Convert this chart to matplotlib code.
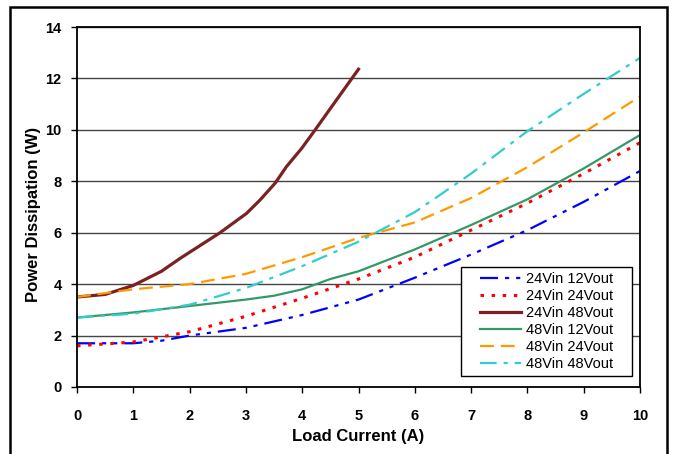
import matplotlib
matplotlib.use("Agg")
from matplotlib import pyplot as plt
from matplotlib.patches import Rectangle

plt.rcParams['font.family'] = ['Liberation Sans', 'DejaVu Sans']
plt.rcParams['lines.scale_dashes'] = False

# load current (A) for each curve and dissipation (W)
x_24_12 = [0, 1, 1.5, 2, 3, 4, 5, 6, 7, 8, 9, 10]
p_24_12 = [1.7, 1.7, 1.8, 2.0, 2.3, 2.8, 3.4, 4.25, 5.15, 6.1, 7.2, 8.4]

x_24_24 = [0, 1, 2, 3, 4, 5, 6, 7, 8, 9, 10]
p_24_24 = [1.6, 1.75, 2.15, 2.75, 3.45, 4.2, 5.05, 6.1, 7.15, 8.3, 9.5]

x_24_48 = [0, 0.5, 1, 1.5, 1.83, 2.54, 3.01, 3.25, 3.52, 3.72, 3.99, 4.23, 4.49, 5.0]
p_24_48 = [3.5, 3.6, 3.95, 4.5, 5.0, 6.0, 6.75, 7.27, 7.93, 8.57, 9.28, 10.0, 10.8, 12.36]

x_48_12 = [0, 1, 2, 3, 3.5, 4, 4.5, 5, 6, 7, 8, 9, 10]
p_48_12 = [2.7, 2.9, 3.15, 3.4, 3.55, 3.8, 4.2, 4.5, 5.35, 6.3, 7.3, 8.5, 9.8]

x_48_24 = [0, 1, 2, 3, 4, 5, 5.5, 6, 7, 8, 9, 10]
p_48_24 = [3.5, 3.8, 4.0, 4.4, 5.05, 5.8, 6.1, 6.4, 7.35, 8.55, 9.9, 11.3]

x_48_48 = [0, 1, 2, 3, 4, 5, 6, 7, 8, 9, 10]
p_48_48 = [2.7, 2.85, 3.2, 3.85, 4.7, 5.65, 6.8, 8.3, 9.95, 11.4, 12.8]

labels = ["24Vin 12Vout", "24Vin 24Vout", "24Vin 48Vout",
          "48Vin 12Vout", "48Vin 24Vout", "48Vin 48Vout"]

fig = plt.figure(figsize=(6.81, 4.54), dpi=100)
ax = fig.add_axes([0.1131, 0.1476, 0.8267, 0.7929])

# outer frame around the whole chart (open at the bottom edge)
fig.patches.append(Rectangle((10 / 681, -0.1), 667 / 681 - 10 / 681, 1.1 - 7 / 454,
                             transform=fig.transFigure, fill=False,
                             edgecolor='black', linewidth=1.8))

ax.plot(x_24_12, p_24_12, color='#0000FF', lw=1.6, dashes=(13, 5, 3, 5, 3, 5),
        dash_capstyle='butt', label=labels[0])
ax.plot(x_24_24, p_24_24, color='#FF0000', lw=2.2, dashes=(2.5, 5.5),
        dash_capstyle='butt', label=labels[1])
ax.plot(x_24_48, p_24_48, color='#7A2222', lw=2.3, label=labels[2])
ax.plot(x_48_12, p_48_12, color='#339966', lw=1.6, label=labels[3])
ax.plot(x_48_24, p_48_24, color='#FF9900', lw=1.6, dashes=(10, 5),
        dash_capstyle='butt', label=labels[4])
ax.plot(x_48_48, p_48_48, color='#33CCCC', lw=1.6, dashes=(12, 5, 3, 5),
        dash_capstyle='butt', label=labels[5])

ax.set_xlim(0, 10)
ax.set_ylim(0, 14)
ax.set_xticks(range(0, 11))
ax.set_yticks(range(0, 15, 2))
ax.grid(axis='y', color='#444444', linewidth=1)
ax.set_axisbelow(True)
for s in ax.spines.values():
    s.set_color('black')
    s.set_linewidth(1.3)
ax.tick_params(direction='out', length=4, width=1, labelsize=10.5)
ax.tick_params(axis='x', pad=12)
ax.tick_params(axis='y', pad=7)
for t in ax.get_xticklabels() + ax.get_yticklabels():
    t.set_fontweight('bold')

ax.set_xlabel("Load Current (A)", fontsize=12, fontweight='bold', labelpad=4)
ax.set_ylabel("Power Dissipation (W)", fontsize=12, fontweight='bold')
ax.yaxis.set_label_coords(-0.064, 0.478)

# legend box drawn separately so it can be wider than its content
box_x, box_y, box_w, box_h = 0.682, 0.031, 0.3037, 0.3028
ax.add_patch(Rectangle((box_x, box_y), box_w, box_h, transform=ax.transAxes,
                       facecolor='white', edgecolor='black', linewidth=1, zorder=4.5))
leg = ax.legend(loc='center', bbox_to_anchor=(box_x + box_w / 2, box_y + box_h / 2),
                fontsize=10.5, frameon=False, handlelength=2.8, handletextpad=0.3,
                labelspacing=0.2, borderpad=0, borderaxespad=0)
leg.set_zorder(5)

plt.savefig("out.png", dpi=100)
